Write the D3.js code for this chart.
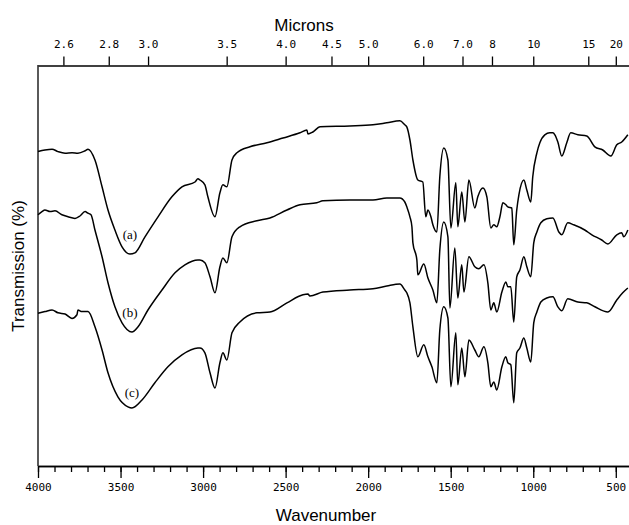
<!DOCTYPE html>
<html><head><meta charset="utf-8">
<script src="https://cdn.jsdelivr.net/npm/d3@7"></script>
<style>
body{margin:0;background:#fff}
.tk text{font-family:'DejaVu Sans Mono',monospace;font-size:11px;fill:#000}
.tk line,.tk path{stroke:#000;stroke-width:1.3}
.ttl{font-family:'Liberation Sans',Arial,sans-serif;font-size:17px;fill:#000}
</style></head><body>
<svg id="chart" width="629" height="525"></svg>
<script>
// ---- data: [wavenumber (cm-1), transmission]
const traceA = [[4000,78.6],[3958,79.0],[3915,79.2],[3879,78.6],[3836,78.2],[3794,78.3],[3758,78.2],[3715,78.8],[3697,79.2],
  [3655,76.5],[3612,69.8],[3576,64.0],[3534,59.0],[3491,54.8],[3443,53.0],[3413,53.3],[3352,57.3],[3273,62.3],[3189,67.3],
  [3128,69.8],[3049,71.0],[3031,71.8],[3019,71.5],[2989,70.3],[2971,67.3],[2928,62.3],[2898,68.3],[2880,70.3],[2856,69.8],
  [2825,76.5],[2795,78.3],[2716,79.8],[2613,80.8],[2516,82.0],[2413,83.3],[2371,84.0],[2365,83.0],[2335,83.5],[2292,84.8],
  [2111,85.0],[1971,85.3],[1887,85.8],[1808,86.3],[1778,85.3],[1766,84.8],[1747,81.5],[1729,76.5],[1699,71.5],[1669,71.0],
  [1651,62.3],[1638,64.0],[1620,62.3],[1608,60.3],[1584,58.5],[1566,72.3],[1542,79.5],[1517,76.5],[1499,59.5],[1469,70.8],
  [1457,59.8],[1433,68.5],[1414,61.0],[1390,71.5],[1354,64.5],[1336,67.3],[1305,69.5],[1281,67.3],[1257,59.5],[1239,60.3],
  [1221,59.8],[1202,62.3],[1184,65.8],[1166,65.3],[1154,64.8],[1130,64.5],[1118,55.3],[1100,64.0],[1087,67.8],[1057,71.5],
  [1039,69.0],[1015,66.0],[1003,72.3],[978,78.3],[960,80.8],[930,82.8],[900,83.3],[881,83.3],[869,82.8],[851,81.0],
  [827,77.5],[797,80.8],[773,83.3],[730,82.8],[676,82.5],[627,79.8],[579,79.0],[530,77.5],[494,80.3],[464,81.0],[427,82.8]];

const traceB = [[4000,62.8],[3976,63.6],[3958,64.0],[3927,63.6],[3897,63.8],[3855,62.8],[3818,62.3],[3776,61.9],[3746,62.5],
  [3715,63.6],[3697,63.2],[3679,62.8],[3655,59.0],[3612,52.3],[3576,45.8],[3534,39.8],[3491,35.8],[3431,33.5],[3394,34.8],
  [3334,39.0],[3249,44.0],[3170,48.3],[3110,50.3],[3031,51.5],[3019,51.5],[2989,50.8],[2958,47.3],[2928,43.3],[2898,49.8],
  [2880,52.0],[2856,50.8],[2825,57.3],[2777,59.8],[2674,61.3],[2595,62.0],[2492,64.0],[2413,65.3],[2311,65.8],[2274,66.3],
  [2111,66.5],[1971,66.5],[1887,67.0],[1808,67.0],[1778,66.0],[1766,64.8],[1747,62.3],[1735,59.8],[1729,55.8],[1705,51.5],
  [1699,47.8],[1663,50.5],[1638,47.0],[1608,44.0],[1584,40.8],[1566,54.0],[1542,61.0],[1517,57.3],[1505,39.5],[1475,54.5],
  [1457,42.0],[1433,50.3],[1420,43.5],[1390,52.3],[1354,49.8],[1330,49.3],[1299,50.3],[1275,45.8],[1257,39.0],[1239,40.8],
  [1221,38.5],[1190,43.5],[1166,46.0],[1154,44.8],[1136,44.8],[1118,36.0],[1100,47.3],[1081,49.0],[1057,52.3],[1039,49.8],
  [1015,47.3],[997,55.8],[978,58.5],[954,60.8],[918,61.8],[881,62.0],[845,58.5],[827,57.8],[791,60.8],[755,60.3],
  [688,59.0],[645,57.8],[585,56.5],[548,55.5],[494,57.8],[464,58.3],[452,57.3],[427,59.0]];

const traceC = [[4000,38.2],[3958,38.6],[3915,39.0],[3879,38.3],[3836,38.0],[3794,36.9],[3764,37.8],[3758,39.0],[3734,38.6],
  [3697,38.6],[3655,34.8],[3612,29.0],[3576,23.3],[3516,17.3],[3455,14.8],[3431,14.5],[3370,16.5],[3292,20.8],[3213,24.8],
  [3128,27.8],[3031,29.5],[3019,29.5],[2989,28.3],[2958,23.3],[2928,19.5],[2898,25.8],[2880,28.3],[2856,26.5],[2825,33.3],
  [2777,36.0],[2674,38.3],[2595,38.5],[2492,40.8],[2395,42.8],[2365,43.0],[2353,42.5],[2274,43.5],[2111,44.0],[1971,44.3],
  [1887,45.0],[1808,45.5],[1778,44.0],[1766,43.3],[1747,40.8],[1729,34.8],[1699,27.3],[1663,30.3],[1638,27.3],[1614,24.8],
  [1584,20.8],[1566,34.0],[1542,39.8],[1517,37.0],[1499,19.8],[1469,33.3],[1457,20.3],[1433,29.5],[1414,22.3],[1390,31.5],
  [1354,29.0],[1330,27.3],[1299,29.8],[1275,25.8],[1257,19.8],[1239,21.0],[1221,19.0],[1190,24.8],[1166,27.3],[1154,25.8],
  [1136,25.3],[1118,15.8],[1100,28.3],[1081,29.5],[1057,32.0],[1039,29.5],[1015,26.0],[997,35.8],[978,38.5],[954,41.0],
  [918,42.0],[881,42.3],[851,39.8],[827,38.8],[791,41.8],[730,41.0],[676,40.8],[627,39.8],[548,38.5],[494,41.5],[458,43.3],[427,44.5]];

const traces = [traceA, traceB, traceC];
const traceNames = ["(a)", "(b)", "(c)"];
const nameAt = [[3443,57.7],[3443,38.2],[3431,18.2]];   // where each name sits, data units

const wnMajor = [4000,3500,3000,2500,2000,1500,1000,500];
const wnMinor = d3.range(4000, 420, -100);
const micronTicks = [2.6,2.8,3.0,3.5,4.0,4.5,5.0,6.0,7.0,8,10,15,20];
const micronLabels = ["2.6","2.8","3.0","3.5","4.0","4.5","5.0","6.0","7.0","8","10","15","20"];

// ---- chart
const svg = d3.select("#chart");
const x = d3.scaleLinear().domain([4000,420]).range([38,629]);
const y = d3.scaleLinear().domain([0,100]).range([466,66]);

// bottom axis: minor + major ticks
svg.append("g").attr("class","tk").attr("transform","translate(0,466)")
  .call(d3.axisBottom(x).tickValues(wnMinor).tickSize(6).tickSizeOuter(0).tickFormat(""));
svg.append("g").attr("class","tk").attr("transform","translate(0,466)")
  .call(d3.axisBottom(x).tickValues(wnMajor).tickSize(12).tickSizeOuter(0).tickPadding(5).tickFormat(d3.format("d")));

// top axis in microns
svg.append("g").attr("class","tk").attr("transform","translate(0,65.5)")
  .call(d3.axisTop(x).tickValues(micronTicks.map(m=>1e4/m)).tickSize(9).tickSizeOuter(0).tickPadding(9)
    .tickFormat((d,i)=>micronLabels[i]));

// left frame edge
svg.append("line").attr("x1",x(4000)).attr("x2",x(4000)).attr("y1",65).attr("y2",466)
  .attr("stroke","#000").attr("stroke-width",1.3);

// titles
svg.append("text").attr("class","ttl").attr("x",304).attr("y",31).attr("text-anchor","middle").text("Microns");
svg.append("text").attr("class","ttl").attr("x",326).attr("y",521).attr("text-anchor","middle").text("Wavenumber");
svg.append("text").attr("class","ttl").attr("transform","rotate(-90)").attr("x",-266).attr("y",24)
  .attr("text-anchor","middle").text("Transmission (%)");

// spectra
const line = d3.line().x(d=>x(d[0])).y(d=>y(d[1])).curve(d3.curveMonotoneX);
svg.selectAll(".spec").data(traces).join("path").attr("class","spec")
  .attr("d",line).attr("fill","none").attr("stroke","#000").attr("stroke-width",1.5)
  .attr("stroke-linejoin","round");

svg.selectAll(".nm").data(traceNames).join("text").attr("class","nm")
  .attr("x",(d,i)=>x(nameAt[i][0])).attr("y",(d,i)=>y(nameAt[i][1])+4)
  .attr("text-anchor","middle").attr("font-family","'Liberation Serif','Times New Roman',serif")
  .attr("font-size",13).attr("fill","#000").text(d=>d);
</script>
</body></html>
